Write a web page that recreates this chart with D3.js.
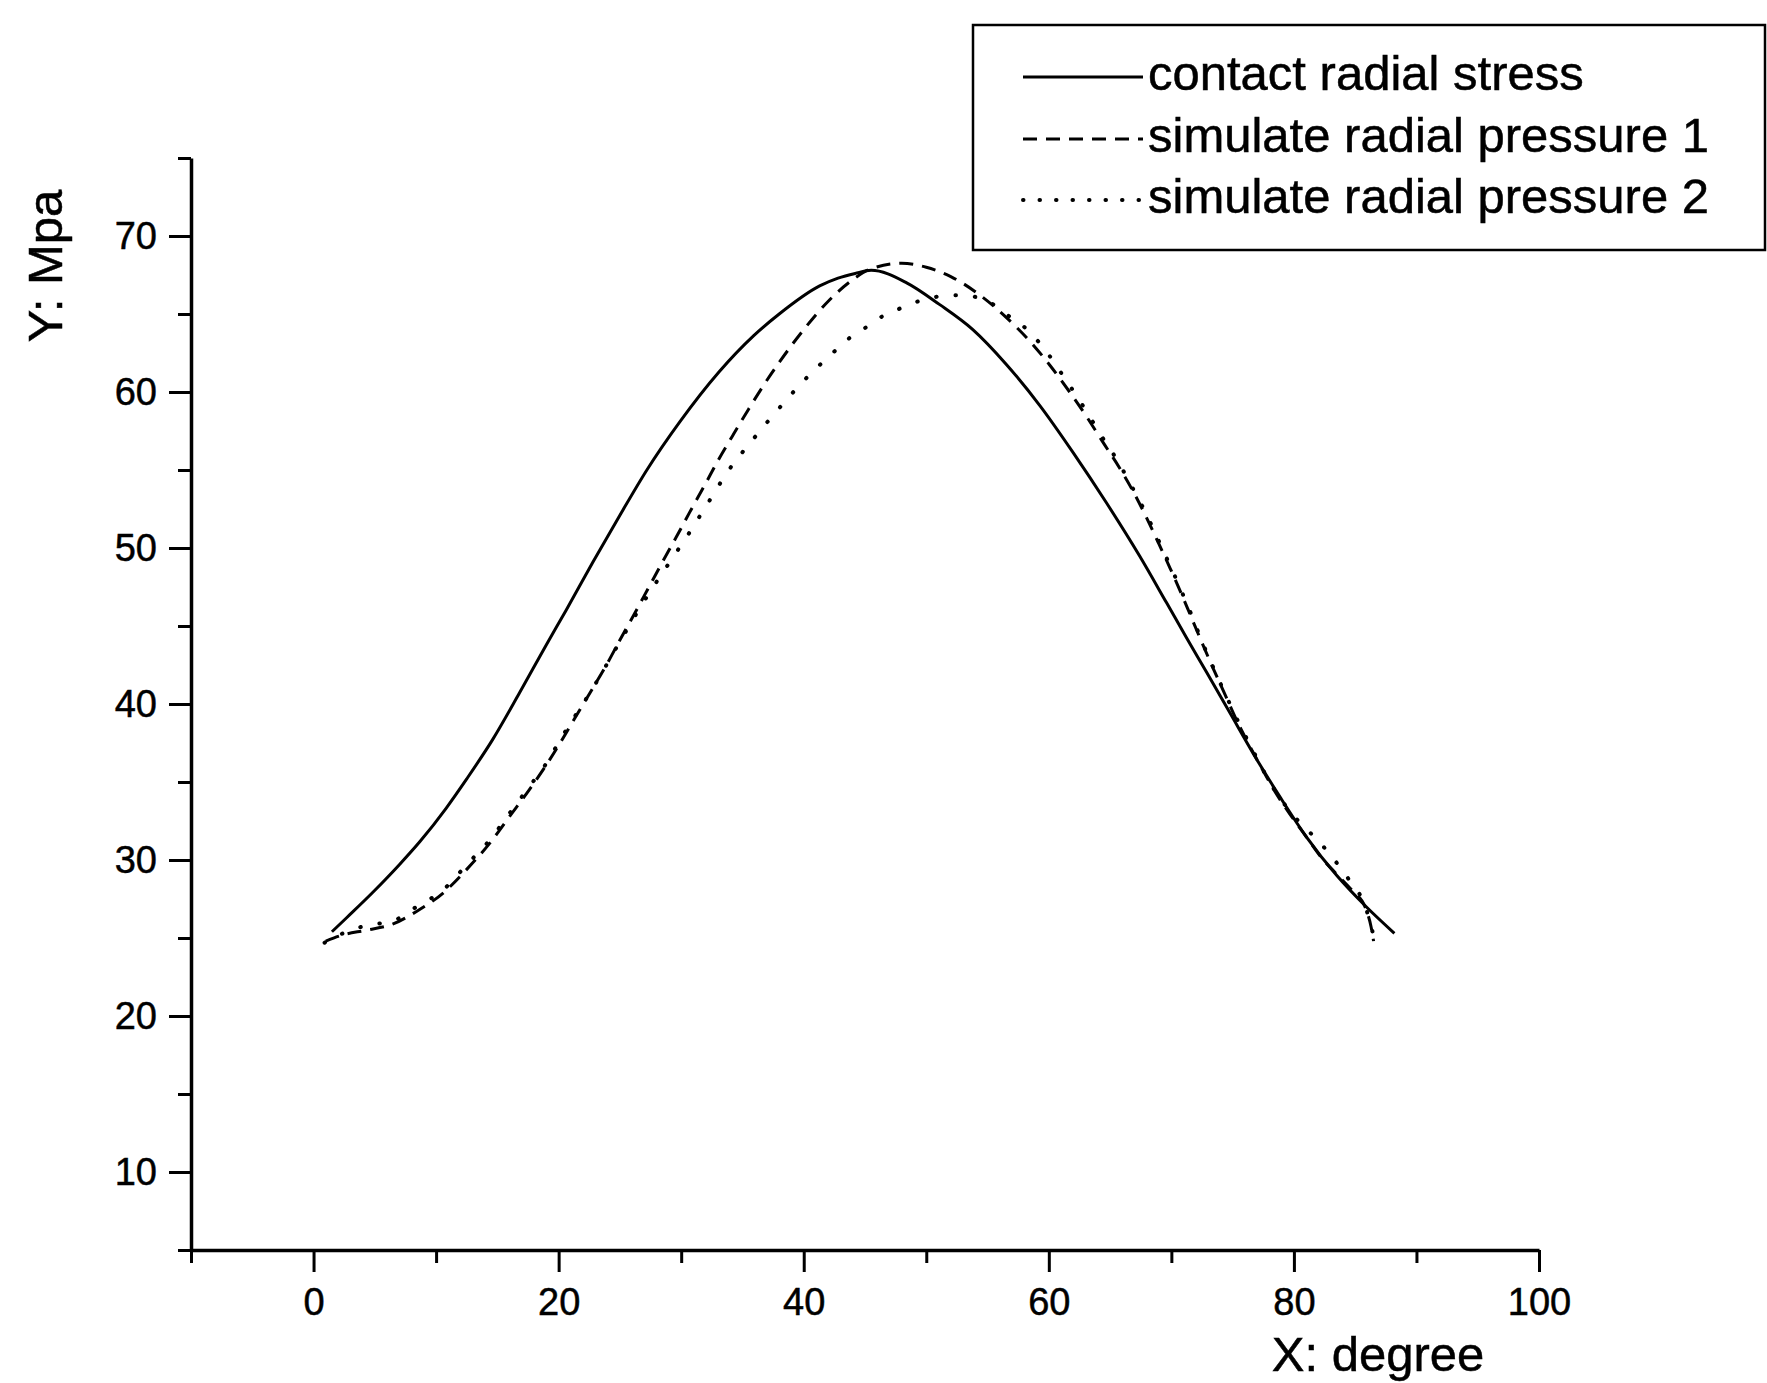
<!DOCTYPE html>
<meta charset="utf-8">
<style>
body { margin: 0; background: #fff; }
svg text { font-family: "Liberation Sans", Arial, sans-serif; fill: #000; stroke: #000; stroke-width: 0.5px; }
</style>

<script src="https://d3js.org/d3.v7.min.js"></script>

<div id="chart"></div>

<script>
// values (x: degree, y: MPa)
var contactX = [1.5, 2.7, 4.8, 7.0, 8.7, 10.8, 12.5, 14.6, 16.8, 19.0, 20.6, 22.8, 25.0, 27.2, 29.9, 33.1, 35.9, 38.0, 41.3, 42.8, 44.2, 45.5, 48.4, 51.1, 53.8, 56.5, 59.3, 62.0, 64.7, 67.4, 69.6, 71.2, 72.9, 74.8, 76.7, 78.9, 81.0, 83.5, 85.9, 88.2];
var contactY = [25.4, 26.3, 27.9, 29.7, 31.2, 33.3, 35.2, 37.7, 40.7, 43.8, 46.0, 49.1, 52.1, 55.0, 58.1, 61.3, 63.6, 65.0, 66.8, 67.3, 67.6, 67.8, 67.0, 65.6, 64.0, 61.8, 59.1, 56.1, 52.9, 49.5, 46.5, 44.3, 42.0, 39.4, 36.8, 34.0, 31.5, 29.0, 27.0, 25.3];

var sim1X = [1.0, 2.4, 4.3, 6.5, 8.4, 10.6, 12.5, 14.4, 16.0, 17.6, 19.0, 20.2, 21.4, 22.7, 23.9, 25.0, 26.2, 27.3, 28.4, 29.6, 30.7, 31.9, 33.0, 34.2, 35.5, 36.7, 38.0, 39.9, 42.1, 44.0, 45.5, 48.0, 50.0, 52.0, 54.4, 56.5, 58.4, 60.1, 61.7, 63.1, 64.4, 65.8, 66.9, 68.0, 68.9, 69.9, 70.8, 71.5, 72.3, 73.4, 74.5, 75.3, 76.4, 77.5, 78.6, 79.8, 81.0, 82.3, 83.6, 84.8, 85.8, 86.3, 86.5];
var sim1Y = [24.8, 25.2, 25.5, 25.9, 26.7, 27.9, 29.4, 31.1, 32.8, 34.5, 36.1, 37.6, 39.2, 40.9, 42.5, 44.1, 45.8, 47.4, 49.0, 50.7, 52.3, 54.0, 55.6, 57.2, 58.9, 60.4, 61.9, 63.9, 65.9, 67.2, 67.9, 68.25, 68.0, 67.4, 66.2, 64.8, 63.3, 61.7, 60.0, 58.4, 56.8, 55.1, 53.6, 51.9, 50.4, 48.7, 47.1, 45.8, 44.3, 42.3, 40.4, 39.0, 37.3, 35.7, 34.2, 32.8, 31.5, 30.1, 29.0, 28.0, 27.0, 25.7, 24.8];

var sim2X = [0.9, 2.4, 4.3, 6.5, 8.4, 10.6, 12.5, 14.4, 16.0, 17.6, 19.0, 20.2, 21.4, 22.7, 23.9, 25.0, 26.2, 27.3, 28.9, 30.6, 32.2, 33.8, 35.9, 37.6, 40.1, 42.5, 43.8, 45.0, 46.3, 47.7, 48.9, 50.3, 51.7, 53.0, 54.4, 55.5, 56.5, 57.8, 59.5, 61.2, 62.8, 64.2, 65.6, 66.8, 68.0, 69.0, 70.0, 70.9, 71.6, 72.4, 73.5, 74.6, 75.5, 76.6, 77.6, 78.5, 79.5, 80.6, 81.9, 82.9, 84.7, 85.8, 86.5, 86.8];
var sim2Y = [24.7, 25.3, 25.8, 26.1, 27.0, 28.1, 29.7, 31.3, 33.0, 34.7, 36.2, 37.8, 39.3, 40.9, 42.5, 44.0, 45.6, 47.0, 48.9, 50.9, 52.9, 54.9, 57.0, 58.6, 60.8, 62.6, 63.5, 64.1, 64.8, 65.3, 65.7, 66.0, 66.2, 66.2, 66.0, 65.6, 65.0, 64.3, 62.9, 61.0, 59.1, 57.3, 55.6, 53.9, 52.1, 50.4, 48.7, 47.1, 45.8, 44.2, 42.2, 40.3, 38.8, 37.1, 35.6, 34.4, 33.3, 32.3, 31.3, 30.4, 28.5, 27.1, 25.2, 24.6];

var seriesNames = ["contact radial stress", "simulate radial pressure 1", "simulate radial pressure 2"];
var xTicks = [0, 20, 40, 60, 80, 100];
var xMinorTicks = [-10, 10, 30, 50, 70, 90];
var yTicks = [10, 20, 30, 40, 50, 60, 70];
var yMinorTicks = [5, 15, 25, 35, 45, 55, 65, 75];

var width = 1767, height = 1383;

var x = d3.scaleLinear().domain([-10, 100]).range([191, 1539]);
var y = d3.scaleLinear().domain([5, 75]).range([1250, 158]);

var svg = d3.select("#chart")
    .append("svg")
    .attr("width", width)
    .attr("height", height);

// series, built from the arrays above
var series = [
    {name: seriesNames[0], pts: d3.zip(contactX, contactY), dash: null,     cap: "butt",  sw: 3},
    {name: seriesNames[1], pts: d3.zip(sim1X, sim1Y),       dash: "14,9",   cap: "butt",  sw: 3},
    {name: seriesNames[2], pts: d3.zip(sim2X, sim2Y),       dash: "0.5,19", cap: "round", sw: 4}
];

var line = d3.line()
    .x(function(d) { return x(d[0]); })
    .y(function(d) { return y(d[1]); })
    .curve(d3.curveMonotoneX);

svg.selectAll("path.curve")
    .data(series)
    .enter().append("path")
    .attr("class", "curve")
    .attr("d", function(d) { return line(d.pts); })
    .attr("fill", "none")
    .attr("stroke", "#000")
    .attr("stroke-width", function(d) { return d.sw; })
    .attr("stroke-linecap", function(d) { return d.cap; })
    .attr("stroke-linejoin", "round")
    .attr("stroke-dasharray", function(d) { return d.dash; });

// axes: major ticks with labels, minor ticks without
var xAxis = d3.axisBottom(x).tickValues(xTicks).tickSize(22).tickSizeOuter(0).tickPadding(16);
var xMinor = d3.axisBottom(x).tickValues(xMinorTicks).tickSize(13).tickFormat("");
var yAxis = d3.axisLeft(y).tickValues(yTicks).tickSize(22).tickSizeOuter(0).tickPadding(12);
var yMinor = d3.axisLeft(y).tickValues(yMinorTicks).tickSize(13).tickFormat("");

function styleAxis(g) {
    g.select(".domain").attr("stroke-width", 3.5);
    g.selectAll(".tick line").attr("stroke-width", 3);
    g.selectAll(".tick text").style("font-size", "38px").attr("fill", "#000");
}

svg.append("g")
    .attr("transform", "translate(0," + y(5) + ")")
    .call(xMinor)
    .call(function(g) { g.select(".domain").remove(); g.selectAll(".tick line").attr("stroke-width", 3); });

svg.append("g")
    .attr("transform", "translate(" + x(-10) + ",0)")
    .call(yMinor)
    .call(function(g) { g.select(".domain").remove(); g.selectAll(".tick line").attr("stroke-width", 3); });

svg.append("g")
    .attr("transform", "translate(0," + y(5) + ")")
    .call(xAxis)
    .call(styleAxis);

svg.append("g")
    .attr("transform", "translate(" + x(-10) + ",0)")
    .call(yAxis)
    .call(styleAxis);

// axis titles
svg.append("text")
    .attr("x", 1378)
    .attr("y", 1371)
    .attr("text-anchor", "middle")
    .style("font-size", "49px")
    .text("X: degree");

svg.append("text")
    .attr("transform", "translate(62,266) rotate(-90)")
    .attr("text-anchor", "middle")
    .style("font-size", "49px")
    .text("Y: Mpa");

// legend
var legend = svg.append("g");

legend.append("rect")
    .attr("x", 973)
    .attr("y", 25)
    .attr("width", 792)
    .attr("height", 225)
    .attr("fill", "#fff")
    .attr("stroke", "#000")
    .attr("stroke-width", 2.5);

var legendY = [77, 139, 200];

var item = legend.selectAll("g.item")
    .data(series)
    .enter().append("g")
    .attr("class", "item")
    .attr("transform", function(d, i) { return "translate(0," + legendY[i] + ")"; });

item.append("line")
    .attr("x1", 1023)
    .attr("x2", 1143)
    .attr("stroke", "#000")
    .attr("stroke-width", function(d) { return d.sw; })
    .attr("stroke-linecap", function(d) { return d.cap; })
    .attr("stroke-dasharray", function(d) { return d.dash == "0.5,19" ? "0.5,16" : d.dash; });

item.append("text")
    .attr("x", 1148)
    .attr("y", 13)
    .style("font-size", "49px")
    .text(function(d) { return d.name; });
</script>
